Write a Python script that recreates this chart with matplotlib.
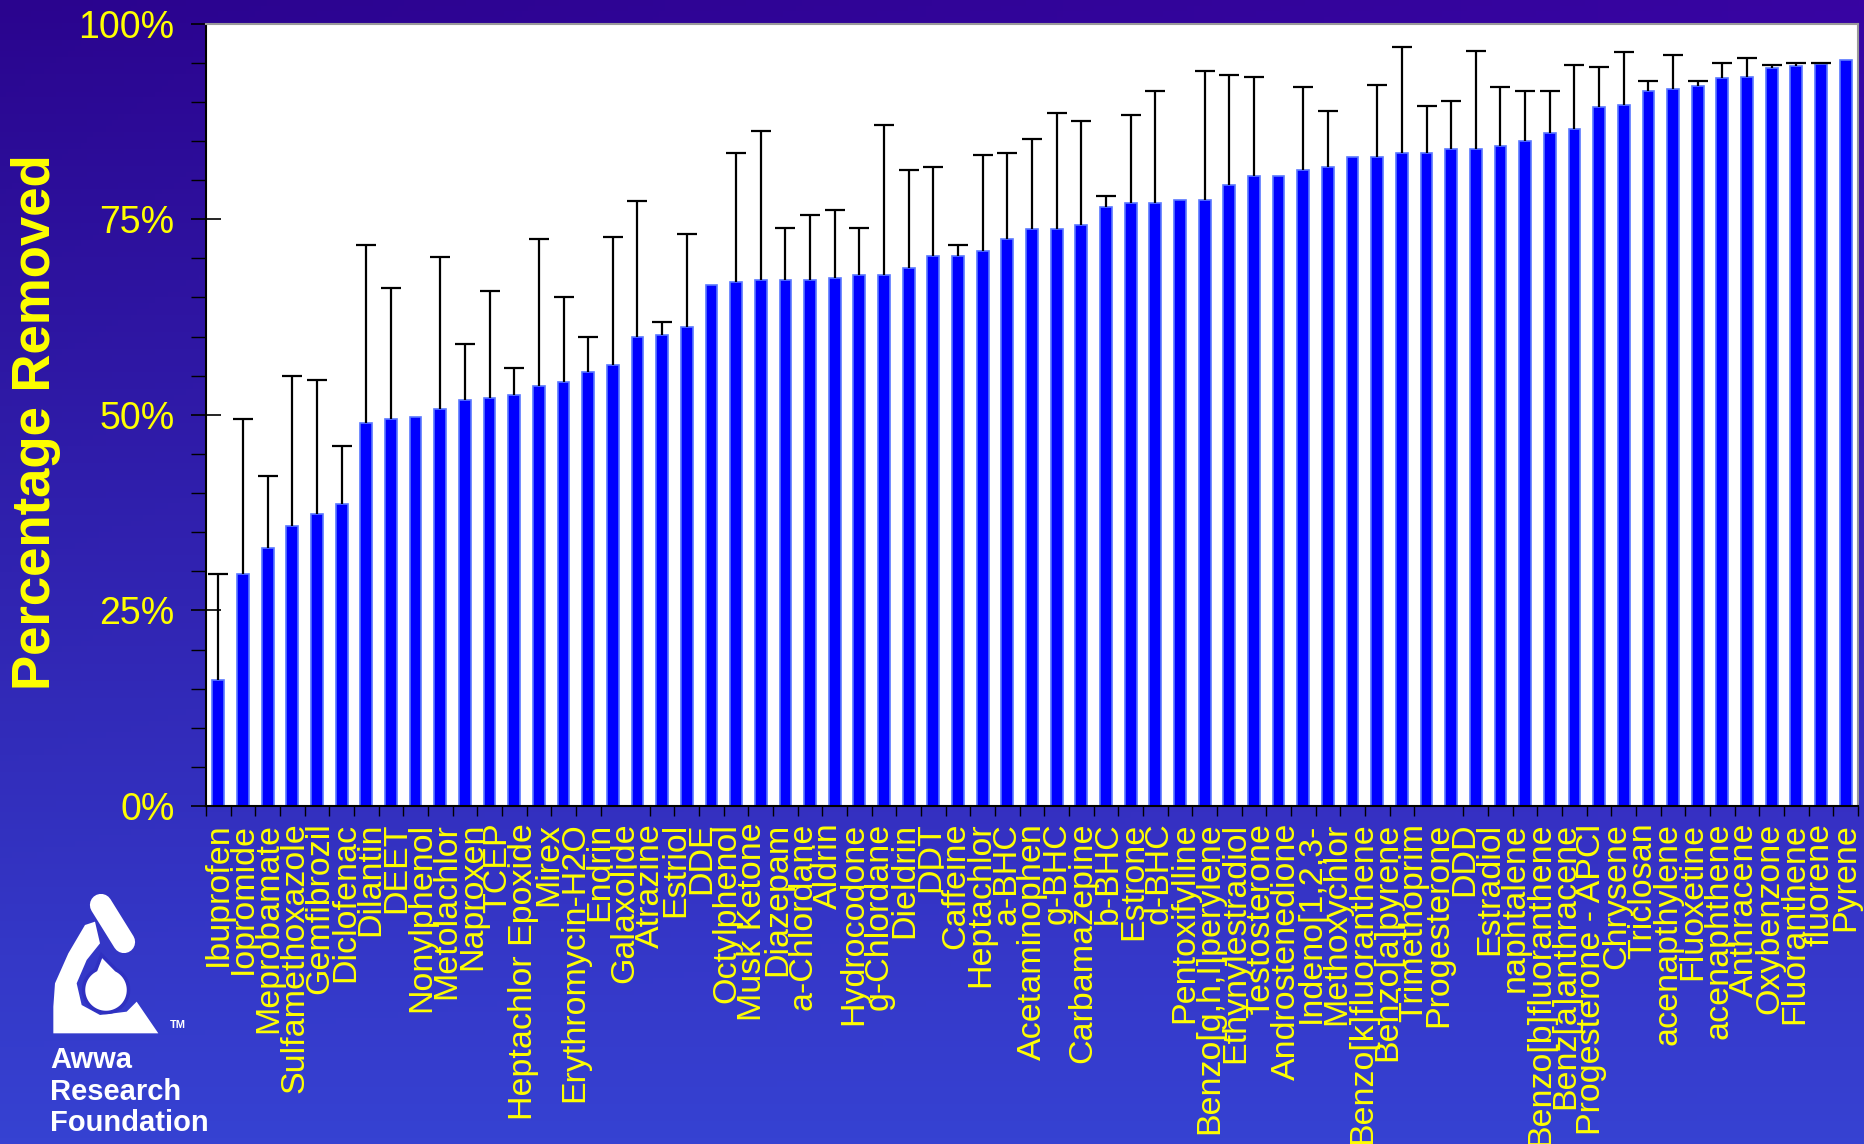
# -*- coding: utf-8 -*-

import numpy as np
import matplotlib
matplotlib.use('Agg')
import matplotlib.pyplot as plt
from matplotlib.patches import Polygon
from matplotlib.ticker import MultipleLocator, FixedLocator

plt.rcParams['font.family'] = ['Liberation Sans', 'DejaVu Sans']

# 65 compound names along the x axis
labels = ['Ibuprofen', 'Iopromide', 'Meprobamate', 'Sulfamethoxazole', 'Gemfibrozil',
          'Diclofenac', 'Dilantin', 'DEET', 'Nonylphenol', 'Metolachlor', 'Naproxen',
          'TCEP', 'Heptachlor Epoxide', 'Mirex', 'Erythromycin-H2O', 'Endrin',
          'Galaxolide', 'Atrazine', 'Estriol', 'DDE', 'Octylphenol', 'Musk Ketone',
          'Diazepam', 'a-Chlordane', 'Aldrin', 'Hydrocodone', 'g-Chlordane', 'Dieldrin',
          'DDT', 'Caffeine', 'Heptachlor', 'a-BHC', 'Acetaminophen', 'g-BHC',
          'Carbamazepine', 'b-BHC', 'Estrone', 'd-BHC', 'Pentoxifylline',
          'Benzo[g,h,I]perylene', 'Ethynylestradiol', 'Testosterone', 'Androstenedione',
          'Indeno[1,2,3-', 'Methoxychlor', 'Benzo[k]fluoranthene', 'Benzo[a]pyrene',
          'Trimethoprim', 'Progesterone', 'DDD', 'Estradiol', 'naphtalene',
          'Benzo[b]fluoranthene', 'Benz[a]anthracene', 'Progesterone - APCI', 'Chrysene',
          'Triclosan', 'acenapthylene', 'Fluoxetine', 'acenaphthene', 'Anthracene',
          'Oxybenzone', 'Fluoranthene', 'fluorene', 'Pyrene']

# percentage removed (67 bars in the picture)
removed = [16.1, 29.6, 33.0, 35.8, 37.3, 38.6, 48.9, 49.4, 49.7, 50.7,
           51.9, 52.2, 52.5, 53.7, 54.2, 55.5, 56.4, 60.0, 60.2, 61.2,
           66.6, 67.0, 67.2, 67.2, 67.2, 67.5, 67.8, 67.8, 68.8, 70.3,
           70.3, 70.9, 72.4, 73.7, 73.7, 74.2, 76.5, 77.0, 77.0, 77.5,
           77.5, 79.3, 80.5, 80.5, 81.3, 81.7, 83.0, 83.0, 83.4, 83.4,
           83.9, 83.9, 84.4, 85.0, 86.0, 86.5, 89.3, 89.6, 91.4, 91.6,
           92.0, 93.0, 93.2, 94.3, 94.6, 94.8, 95.3]

# top of the (upper only) error bar, None where no bar is drawn
err_top = [29.6, 49.5, 42.2, 55.0, 54.4, 46.0, 71.7, 66.2, None, 70.1,
           59.1, 65.8, 56.0, 72.4, 65.0, 59.9, 72.7, 77.3, 61.9, 73.1,
           None, 83.4, 86.2, 73.9, 75.5, 76.2, 73.9, 87.0, 81.3, 81.6,
           71.7, 83.2, 83.4, 85.2, 88.6, 87.6, 77.9, 88.3, 91.4, None,
           93.9, 93.4, 93.1, None, 91.9, 88.8, None, 92.2, 97.0, 89.5,
           90.1, 96.5, 91.9, 91.4, 91.4, 94.7, 94.5, 96.3, 92.6, 96.0,
           92.6, 94.9, 95.6, 94.7, 94.9, 94.9, None]

W, H = 1865, 1144
YELLOW = '#ffff00'

fig = plt.figure(figsize=(W / 100, H / 100), dpi=100)

# slide background
bg = fig.add_axes([0, 0, 1, 1])
bg.set_axis_off()
t = np.linspace(0, 1, 200)[:, None]
s = np.linspace(0, 1, 300)[None, :]
r = 42 + 12 * t + 14 * s * (1 - t)
g = 4 + 62 * t + 0 * s
b = 142 + 68 * t + 20 * s * (1 - t)
grad = np.clip(np.dstack([r, g, b]) / 255.0, 0, 1)
bg.imshow(grad, extent=[0, W, H, 0], aspect='auto', zorder=0)
bg.set_xlim(0, W)
bg.set_ylim(H, 0)

# Awwa Research Foundation logo
def P(pts):
    return [(px / 3.0, 860 + py / 3.0) for px, py in pts]

arm = P([(160, 520), (475, 520), (410, 425), (380, 455), (300, 465), (245, 435),
         (230, 370), (260, 300), (300, 250), (285, 185), (255, 195), (205, 280),
         (165, 370), (160, 440)])
bg.add_patch(Polygon(arm, closed=True, fc='white', ec='none', zorder=2))
ang = np.linspace(-0.35 * np.pi, 1.35 * np.pi, 60)
drop = [(106 + 22.5 * np.cos(a), 990 + 22.5 * np.sin(a)) for a in ang] + [(101.5, 955)]
bg.add_patch(Polygon(drop, closed=True, fc='white', ec='#2f30c0', lw=2.5, zorder=3))
bg.plot([101, 124], [905, 942], color='white', lw=16, solid_capstyle='round', zorder=3)
bg.text(170, 1025, 'TM', color='white', fontsize=8, fontweight='bold', va='center')
for txt, yy in [('Awwa', 1060), ('Research', 1092), ('Foundation', 1123)]:
    bg.text(50, yy, txt, color='white', fontsize=21, fontweight='bold', va='center')

# chart
ax = fig.add_axes([206 / W, 1 - 806 / H, 1652 / W, (806 - 23.5) / H])
ax.set_facecolor('white')

x = np.arange(len(removed))
vals = np.array(removed)
ax.bar(x, vals, width=0.48, color='#0000ff', edgecolor='#5a78ff', linewidth=1.2, zorder=2)

has_err = np.array([e is not None for e in err_top])
tops = np.array([e if e is not None else np.nan for e in err_top])
up = tops[has_err] - vals[has_err]
eb = ax.errorbar(x[has_err], vals[has_err], yerr=[np.zeros_like(up), up], fmt='none',
                 ecolor='black', elinewidth=1.6, capsize=7.2, capthick=1.6, zorder=3)
eb[1][0].set_visible(False)  # no cap at the bar top

ax.set_xlim(-0.5, len(removed) - 0.5)
ax.set_ylim(0, 100)

ax.yaxis.set_major_locator(FixedLocator([0, 25, 50, 75, 100]))
ax.yaxis.set_minor_locator(MultipleLocator(5))
ax.set_yticklabels(['0%', '25%', '50%', '75%', '100%'])
ax.tick_params(axis='y', which='major', direction='inout', length=21, width=1.2,
               labelsize=27, labelcolor=YELLOW, pad=12)
ax.tick_params(axis='y', which='minor', direction='out', length=11, width=1)

# labels spread evenly over the axis, ticks at the bar boundaries
lab_pos = np.linspace(0, len(removed) - 1, len(labels))
ax.set_xticks(lab_pos)
ax.set_xticklabels(labels, rotation=90)
ax.xaxis.set_minor_locator(FixedLocator(np.arange(-0.5, len(removed), 1.0)))
ax.tick_params(axis='x', which='major', length=0, labelsize=24.5,
               labelcolor=YELLOW, pad=12)
ax.tick_params(axis='x', which='minor', direction='out', length=7, width=1)

for side in ['left', 'bottom']:
    ax.spines[side].set_color('black')
    ax.spines[side].set_linewidth(1.5)
for side in ['top', 'right']:
    ax.spines[side].set_color('#9a9a9a')
    ax.spines[side].set_linewidth(1.5)

fig.text(36 / W, 0.631, 'Percentage Removed', rotation=90, ha='center', va='center',
         color=YELLOW, fontsize=38, fontweight='bold')

fig.savefig('out.png', dpi=100)
